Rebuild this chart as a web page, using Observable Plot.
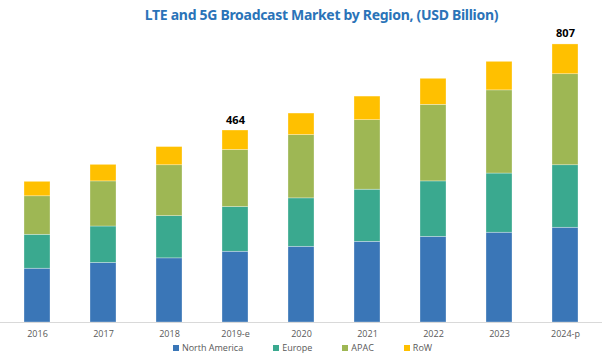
<!DOCTYPE html>
<html>
<head>
<meta charset="utf-8">
<script src="https://cdn.jsdelivr.net/npm/d3@7"></script>
<script src="https://cdn.jsdelivr.net/npm/@observablehq/plot@0.6"></script>
<style>
  html, body { margin: 0; padding: 0; background: #fff; }
  #wrap { position: relative; width: 605px; height: 363px; overflow: hidden; font-family: "Open Sans", "Noto Sans", sans-serif; }
  #title { position: absolute; left: 38px; width: 567px; top: 5px; text-align: center; font-family: "Noto Sans", sans-serif; font-weight: bold; font-size: 14px; color: #2a73b8; letter-spacing: -0.3px; }
  #legend { position: absolute; left: 0; width: 605px; top: 341px; display: flex; justify-content: center; gap: 30px; font-size: 9px; color: #595959; }
  #legend .item { display: flex; align-items: center; gap: 3px; }
  #legend .sw { width: 6px; height: 6px; display: inline-block; }
  #chart { position: absolute; left: 0; top: 0; }
</style>
</head>
<body>
<div id="wrap">
  <div id="chart"></div>
  <div id="title">LTE and 5G Broadcast Market by Region, (USD Billion)</div>
  <div id="legend"></div>
</div>
<script>
const years = ["2016", "2017", "2018", "2019-e", "2020", "2021", "2022", "2023", "2024-p"];
const regions = ["North America", "Europe", "APAC", "RoW"];
const colors = ["#3a76b7", "#3aa98f", "#9eb754", "#ffc000"];
const northAmerica = [130, 144, 155, 171, 183, 195, 207, 217, 229];
const europe       = [82, 88, 102, 108, 117, 126, 134, 143, 151];
const apac         = [93, 109, 123, 138, 153, 168, 185, 201, 220];
const row          = [35, 40, 44, 47, 52, 57, 63, 69, 72];
const totalLabels  = ["", "", "", "464", "", "", "", "", "807"];

const series = [northAmerica, europe, apac, row];
const data = [];
years.forEach((y, i) => {
  regions.forEach((r, j) => data.push({year: y, region: r, value: series[j][i]}));
});
const totals = years.map((y, i) => ({
  year: y,
  total: series.reduce((s, arr) => s + arr[i], 0),
  label: totalLabels[i]
}));

const plot = Plot.plot({
  width: 605,
  height: 363,
  marginLeft: 0,
  marginRight: 3,
  marginTop: 30,
  marginBottom: 41,
  x: { domain: years, paddingInner: 0.6, paddingOuter: 0.3, label: null },
  y: { domain: [0, 705.7], axis: null },
  color: { domain: regions, range: colors },
  style: { fontFamily: "'Open Sans', 'Noto Sans', sans-serif" },
  marks: [
    Plot.barY(data, Plot.stackY({ x: "year", y: "value", fill: "region", order: regions, stroke: "#ffffff", strokeOpacity: 0.5, strokeWidth: 0.6 })),
    Plot.ruleY([0], { stroke: "#d9d9d9", strokeWidth: 1 }),
    Plot.axisX({ tickSize: 0, tickPadding: 8, fontSize: 9, fill: "#595959", label: null }),
    Plot.text(totals.filter(d => d.label), { x: "year", y: "total", text: "label", dy: -7, lineAnchor: "bottom", fontWeight: "bold", fontSize: 11, fill: "#000" })
  ]
});
document.getElementById("chart").appendChild(plot);

const legend = document.getElementById("legend");
regions.forEach((r, j) => {
  const it = document.createElement("div");
  it.className = "item";
  const sw = document.createElement("span");
  sw.className = "sw";
  sw.style.background = colors[j];
  const t = document.createElement("span");
  t.textContent = r;
  it.appendChild(sw); it.appendChild(t);
  legend.appendChild(it);
});
</script>
</body>
</html>
